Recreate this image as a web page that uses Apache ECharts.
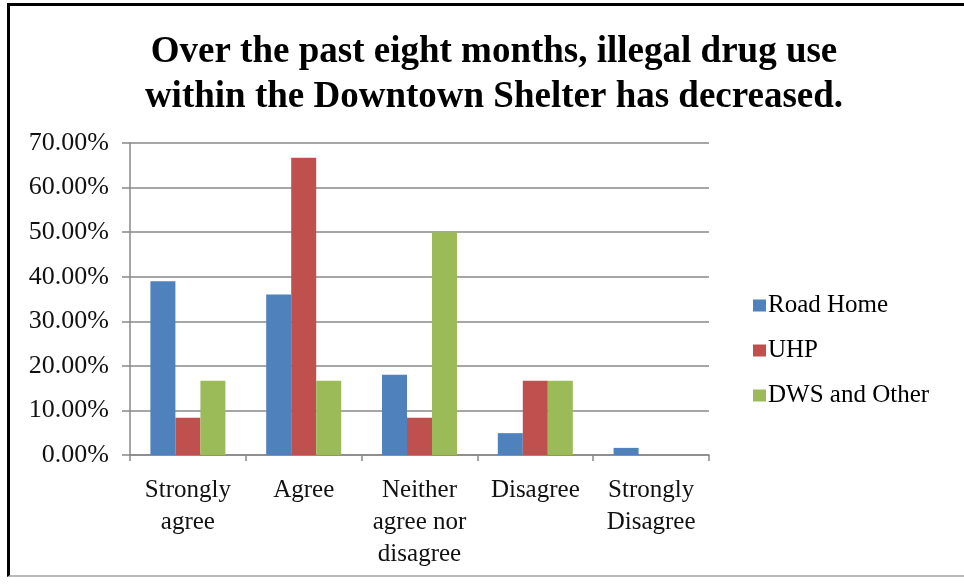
<!DOCTYPE html>
<html>
<head>
<meta charset="utf-8">
<script src="https://cdn.jsdelivr.net/npm/echarts@6/dist/echarts.min.js"></script>
<style>
html,body{margin:0;padding:0;background:#fff;}
#frame{position:absolute;left:7px;top:3px;width:964px;height:574px;border-left:3px solid #000;border-top:3px solid #000;border-bottom:2px solid #b8b8b8;box-sizing:border-box;}
#chart{position:absolute;left:0;top:0;width:964px;height:584px;}
</style>
</head>
<body>
<div id="frame"></div>
<div id="chart"></div>
<script>
const titleLines = ['Over the past eight months, illegal drug use', 'within the Downtown Shelter has decreased.'];
const categories = ['Strongly\nagree', 'Agree', 'Neither\nagree nor\ndisagree', 'Disagree', 'Strongly\nDisagree'];
const seriesNames = ['Road Home', 'UHP', 'DWS and Other'];
const roadHome = [39.0, 36.0, 18.0, 4.9, 1.6];
const uhp = [8.33, 66.67, 8.33, 16.67, 0];
const dwsOther = [16.67, 16.67, 50.0, 16.67, 0];
const colors = ['#4F81BD', '#C0504D', '#9BBB59'];

const chart = echarts.init(document.getElementById('chart'));
const serif = '"Liberation Serif", "DejaVu Serif", serif';
const seriesData = [roadHome, uhp, dwsOther];
chart.setOption({
  animation: false,
  backgroundColor: 'transparent',
  title: {
    text: titleLines.join('\n'),
    left: 489, top: 25, textAlign: 'center',
    textStyle: { fontFamily: serif, fontWeight: 'bold', fontSize: 37, lineHeight: 45, color: '#000' }
  },
  legend: {
    orient: 'vertical', left: 748, top: 288,
    itemWidth: 13, itemHeight: 12, itemGap: 20,
    icon: 'rect',
    textStyle: { fontFamily: serif, fontSize: 25, color: '#000', padding: [0,0,0,-3] },
    data: seriesNames
  },
  grid: { left: 130, right: 255, top: 143, bottom: 129 },
  xAxis: {
    type: 'category', data: categories,
    axisLine: { lineStyle: { color: '#888', width: 1.5 } },
    axisTick: { show: true, length: 6, lineStyle: { color: '#888', width: 1.5 } },
    axisLabel: { fontFamily: serif, fontSize: 25, color: '#111', lineHeight: 32, margin: 19, interval: 0 }
  },
  yAxis: {
    type: 'value', min: 0, max: 70, interval: 10,
    axisLine: { show: true, lineStyle: { color: '#888', width: 1.5 } },
    axisTick: { show: true, length: 8, lineStyle: { color: '#888', width: 1.5 } },
    splitLine: { lineStyle: { color: '#888', width: 1.5 } },
    axisLabel: { fontFamily: serif, fontSize: 26, color: '#111', margin: 21, formatter: v => v.toFixed(2) + '%' }
  },
  series: seriesNames.map((n, i) => ({
    name: n, type: 'bar', data: seriesData[i], barWidth: 25, barGap: '0%',
    itemStyle: { color: colors[i] }
  }))
});
</script>
</body>
</html>
